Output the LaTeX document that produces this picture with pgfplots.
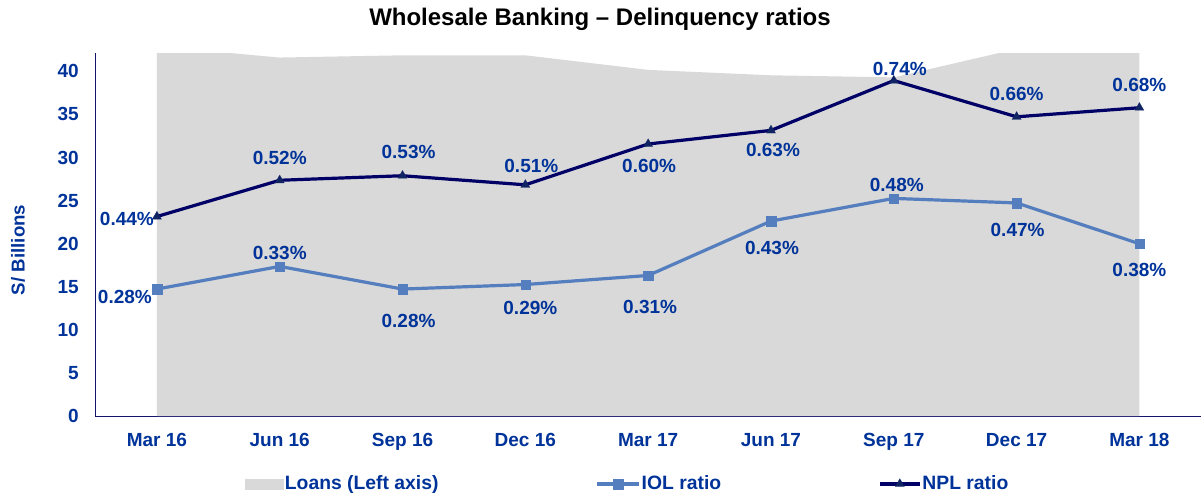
\documentclass[border=0pt]{standalone}
\usepackage{fontspec}
\setmainfont{Liberation Sans}
\usepackage{pgfplots}
\usepackage{pgfplotstable}
\pgfplotsset{compat=1.18}
\definecolor{txtblue}{RGB}{0,51,153}
\definecolor{nplc}{RGB}{0,0,102}
\definecolor{nplm}{RGB}{16,36,100}
\definecolor{iolc}{RGB}{84,126,190}
\definecolor{areag}{RGB}{217,217,217}
\definecolor{axc}{RGB}{20,20,110}

\pgfplotsset{
  iolleg/.style={legend image code/.code={\draw[##1, mark repeat=2, mark phase=2] plot coordinates {(0pt,0pt) (15.75pt,0pt) (31.5pt,0pt)};}},
  nplleg/.style={legend image code/.code={\draw[##1, mark repeat=2, mark phase=2] plot coordinates {(0pt,0pt) (15pt,0pt) (30pt,0pt)};}},
  loanleg/.style={legend image code/.code={\fill[areag] (0pt,-3.75pt) rectangle (28.5pt,3.75pt);}},
  ratiolabels/.style={
    visualization depends on={\thisrow{dx}\as\dx},
    visualization depends on={\thisrow{dy}\as\dy},
    point meta=y,
    nodes near coords={\pgfmathprintnumber[fixed,fixed zerofill,precision=2,assume math mode=true]{\pgfplotspointmeta}\%},
    every node near coord/.append style={anchor=center, xshift=\dx pt, yshift=\dy pt,
      font=\fontsize{14.25}{16}\selectfont\bfseries, text=txtblue, inner sep=0pt},
  },
}

\pgfplotstableread{
x loans
0 42.9
1 41.6
2 41.86
3 41.86
4 40.17
5 39.54
6 39.3
7 42.6
8 43.0
}\loans

\pgfplotstableread{
x r dx dy
0 0.44 -22.5 -1.5
1 0.52 0 16.9
2 0.53 4.5 17.5
3 0.51 4.5 14.25
4 0.60 0.75 -16.5
5 0.63 1.5 -15
6 0.74 4.5 9
7 0.66 0 17
8 0.68 0 17.25
}\npl

\pgfplotstableread{
x r dx dy
0 0.28 -24 -6
1 0.33 0 10
2 0.28 4.5 -23.8
3 0.29 3.75 -17.5
4 0.31 1.5 -24
5 0.43 0.75 -20.25
6 0.48 2.25 9.75
7 0.47 0.75 -20.25
8 0.38 0 -19.5
}\iol

\begin{document}
\begin{tikzpicture}
\useasboundingbox (-71.625pt,-60.75pt) rectangle (831.375pt,312pt);
\begin{axis}[
  scale only axis, width=829pt, height=272pt,
  xmin=-0.5, xmax=8.5, ymin=0, ymax=42.09,
  axis x line=bottom, axis y line=left,
  axis line style={-, draw=axc, line width=0.75pt},
  major tick length=0pt,
  xtick={0,...,8},
  xticklabels={Mar 16,Jun 16,Sep 16,Dec 16,Mar 17,Jun 17,Sep 17,Dec 17,Mar 18},
  ytick={0,5,...,40},
  /pgf/number format/assume math mode=true,
  tick label style={font=\fontsize{14.25}{16}\selectfont\bfseries, text=txtblue, inner sep=0pt},
  xticklabel style={anchor=north, yshift=-12.75pt},
  yticklabel style={anchor=east, xshift=-12.4pt},
  ylabel={S/ Billions},
  ylabel style={at={(axis description cs:-0.0701,0.458)}, anchor=center, font=\fontsize{14}{16}\selectfont\bfseries, text=txtblue},
  title={Wholesale Banking -- Delinquency ratios},
  title style={at={(axis description cs:0.4564,1.0716)}, anchor=center, font=\fontsize{18}{20}\selectfont\bfseries, text=black},
]
\addplot[fill=areag, draw=none] table[x=x,y=loans]{\loans} \closedcycle;
\end{axis}
\begin{axis}[
  scale only axis, width=829pt, height=272pt,
  xmin=-0.5, xmax=8.5, ymin=0, ymax=0.8,
  hide axis, clip=false,
  /pgf/number format/assume math mode=true,
  legend style={at={(axis description cs:0.4812,-0.1873)}, anchor=center, draw=none, fill=none,
    font=\fontsize{14.5}{16}\selectfont\bfseries, text=txtblue, legend columns=3,
    nodes={inner sep=0.75pt},
    /tikz/every even column/.append style={column sep=117pt}},
  legend cell align=left,
]
\addlegendimage{loanleg}
\addlegendentry{Loans (Left axis)}
\addplot[iolc, line width=2.4pt, mark=square*, mark size=3.5pt, mark options={fill=iolc, draw=iolc, line width=0.1pt},
  iolleg, ratiolabels] table[x=x,y=r]{\iol};
\addlegendentry{IOL ratio}
\addplot[nplc, line width=2.4pt, mark=triangle*, mark size=4pt, mark options={fill=nplm, draw=nplm, line width=0.1pt},
  nplleg, ratiolabels] table[x=x,y=r]{\npl};
\addlegendentry{NPL ratio}
\end{axis}
\end{tikzpicture}
\end{document}
